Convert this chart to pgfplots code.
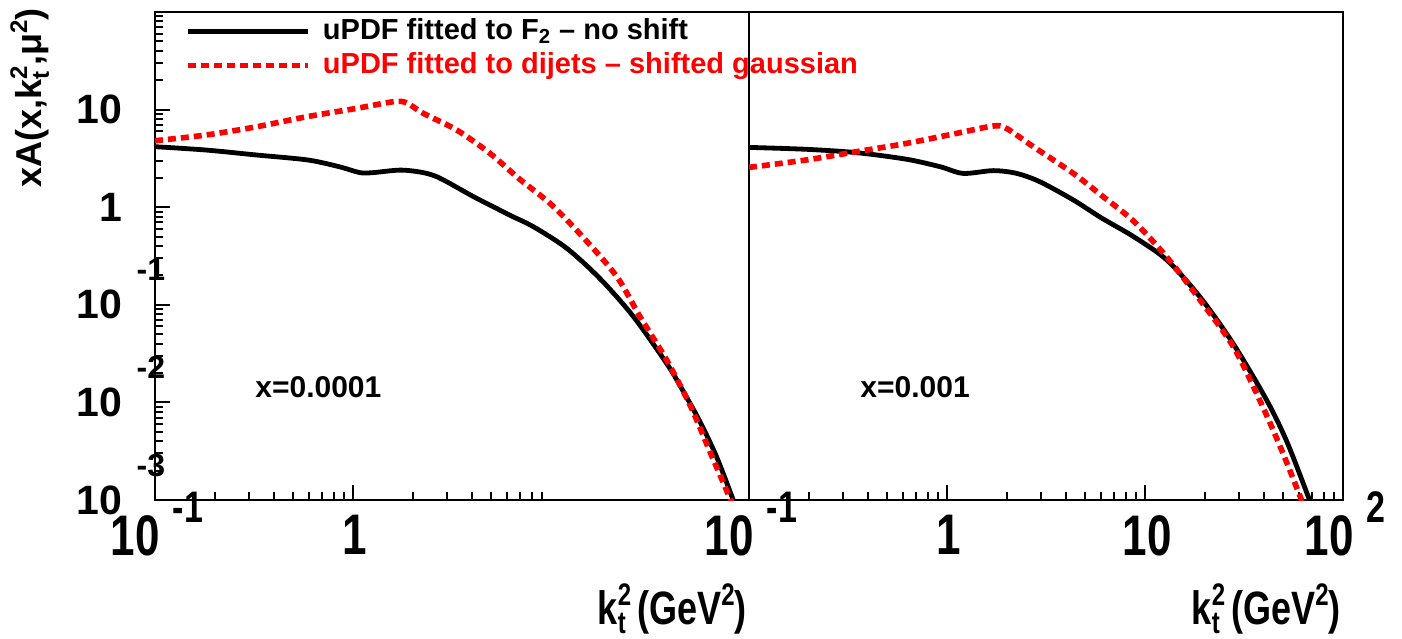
\documentclass[border=0pt]{standalone}
\usepackage{fontspec}
\setmainfont{Liberation Sans}
\usepackage{graphicx}
\usepackage{xcolor}
\usepackage{pgfplots}
\pgfplotsset{compat=1.18}

\newcommand\ypow[1]{10\rlap{\hspace{7pt}\smash{\raisebox{19pt}{\fontsize{16}{16}\selectfont #1}}}\hspace{5.5pt}}
\newcommand\xpow[1]{\scalebox{1}[1.3]{10}\hspace{6.5pt}\smash{\raisebox{16.5pt}{\scalebox{1}[1.3]{\fontsize{17}{17}\selectfont #1}}}}
\newcommand\xone[1]{\scalebox{1}[1.3]{#1}}
\newcommand\supsub[3]{\rlap{\raisebox{-0.2em}{\fontsize{#1}{#1}\selectfont #3}}\raisebox{0.4em}{\fontsize{#1}{#1}\selectfont #2}}

\pgfplotstableread{
k v
0.1 4.17
0.182 3.85
0.324 3.43
0.589 3.05
0.851 2.60
1.084 2.26
1.259 2.26
1.738 2.40
2.265 2.26
2.754 1.98
4.07 1.28
5.52 0.933
6.31 0.813
8.15 0.631
12.0 0.380
17.66 0.186
26.06 0.0759
38.37 0.0251
44.9 0.0148
56.62 0.00631
68.7 0.00275
83.2 0.00100
90 0.00063
}\tabLB

\pgfplotstableread{
k v
0.1 4.80
0.182 5.50
0.327 6.68
0.583 8.45
1.042 10.3
1.600 12.05
1.862 11.75
2.265 9.16
3.342 6.18
4.92 3.56
6.92 1.95
10.0 1.072
14.55 0.490
21.48 0.195
28.12 0.0759
38.37 0.0272
50.7 0.00912
63.97 0.00302
80.7 0.00100
85 0.0007
}\tabLR

\pgfplotstableread{
k v
0.1 4.10
0.195 3.92
0.350 3.62
0.625 3.10
0.923 2.60
1.208 2.22
1.714 2.37
2.249 2.22
2.951 1.82
4.345 1.186
6.03 0.776
8.73 0.501
12.88 0.288
18.97 0.120
27.93 0.0398
41.21 0.0105
52.0 0.00398
65.8 0.00117
67.6 0.00100
72 0.0006
}\tabRB

\pgfplotstableread{
k v
0.1 2.56
0.195 3.05
0.350 3.71
0.625 4.51
1.117 5.71
1.714 6.79
1.995 6.43
2.729 4.17
4.345 2.22
6.03 1.32
8.73 0.724
12.88 0.309
18.97 0.112
27.93 0.0372
38.0 0.0105
48.1 0.00355
61.7 0.00100
65 0.0007
}\tabRR

\pgfplotsset{
  mypanel/.style={
    xmin=0.1, xmax=100, ymin=0.001, ymax=100,
    width=297pt, height=244pt, scale only axis,
    clip mode=individual,
    axis line style={line width=1pt},
    tick align=inside, xtick pos=bottom, ytick pos=left,
    major tick length=7.5pt, minor tick length=4pt,
    tick style={black, line width=1pt},
    xticklabel style={anchor=north, inner sep=0pt, yshift=-7.5pt, xshift=1pt,
      font=\fontsize{22}{22}\selectfont\bfseries},
    yticklabel style={anchor=east, inner sep=0pt, xshift=-16pt,
      font=\fontsize{20.5}{20.5}\selectfont\bfseries},
  },
  blk/.style={black, line width=2.4pt, smooth, tension=0.5},
  rd/.style={red, line width=2.8pt, dash pattern=on 4pt off 2.5pt, smooth, tension=0.5},
}

\begin{document}
\begin{tikzpicture}
\useasboundingbox (-77.5pt,-69pt) rectangle (623.5pt,250pt);
\begin{loglogaxis}[mypanel, at={(0pt,0pt)}, anchor=south west,
  xtick={0.1,1}, xticklabels={\xpow{-1},\xone{1}},
  minor xtick={0.2,0.3,0.4,0.5,0.6,0.7,0.8,0.9,2,3,4,5,6,7,8,9},
  ytick={0.001,0.01,0.1,1,10},
  yticklabels={\ypow{-3},\ypow{-2},\ypow{-1},1,10},
  minor ytick={0.002,0.003,0.004,0.005,0.006,0.007,0.008,0.009,0.02,0.03,0.04,0.05,0.06,0.07,0.08,0.09,0.2,0.3,0.4,0.5,0.6,0.7,0.8,0.9,2,3,4,5,6,7,8,9,20,30,40,50,60,70,80,90},
  legend style={at={(rel axis cs:0,1)}, anchor=north west, xshift=15pt, yshift=-1pt,
    draw=none, fill=none, inner sep=0pt, row sep=0pt,
    font=\fontsize{14.5}{14.5}\selectfont\bfseries,
    nodes={inner sep=2pt, text height=10.5pt, text depth=2.5pt}},
  legend cell align=left,
  legend image code/.code={\draw[#1] (0pt,0pt) -- (60pt,0pt); \path (64pt,0pt);},
]
\addplot[blk] table[x=k, y=v] {\tabLB};
\addlegendentry{uPDF fitted to F\textsubscript{2} – no shift}
\addplot[rd] table[x=k, y=v] {\tabLR};
\addlegendentry{\textcolor{red}{uPDF fitted to dijets – shifted gaussian}}
\node[anchor=west, inner sep=0pt, font=\fontsize{15}{15}\selectfont\bfseries]
  at (axis cs:0.32,0.0144) {x=0.0001};
\node[xshift=-72.5pt, yshift=2pt, rotate=90, anchor=north east, inner sep=0pt,
  font=\fontsize{18}{18}\selectfont\bfseries] at (rel axis cs:0,1)
  {xA(x,k\supsub{12}{2}{t},μ\raisebox{0.4em}{\fontsize{12}{12}\selectfont 2})};
\node[xshift=-1pt, yshift=-62pt, anchor=base east, inner sep=0pt,
  font=\fontsize{18}{18}\selectfont\bfseries] at (rel axis cs:1,0)
  {\scalebox{1}[1.3]{k\supsub{12}{2}{t}\,(GeV\raisebox{0.4em}{\fontsize{12}{12}\selectfont 2})}};
\end{loglogaxis}
\begin{loglogaxis}[mypanel, at={(297pt,0pt)}, anchor=south west,
  xtick={0.1,1,10,100}, xticklabels={\xpow{-1},\xone{1},\xone{10},\xpow{2}},
  minor xtick={0.2,0.3,0.4,0.5,0.6,0.7,0.8,0.9,2,3,4,5,6,7,8,9,20,30,40,50,60,70,80,90},
  ytick=\empty,
]
\addplot[blk] table[x=k, y=v] {\tabRB};
\addplot[rd] table[x=k, y=v] {\tabRR};
\node[anchor=west, inner sep=0pt, font=\fontsize{15}{15}\selectfont\bfseries]
  at (axis cs:0.364,0.0144) {x=0.001};
\node[xshift=-1pt, yshift=-62pt, anchor=base east, inner sep=0pt,
  font=\fontsize{18}{18}\selectfont\bfseries] at (rel axis cs:1,0)
  {\scalebox{1}[1.3]{k\supsub{12}{2}{t}\,(GeV\raisebox{0.4em}{\fontsize{12}{12}\selectfont 2})}};
\end{loglogaxis}
\end{tikzpicture}
\end{document}
